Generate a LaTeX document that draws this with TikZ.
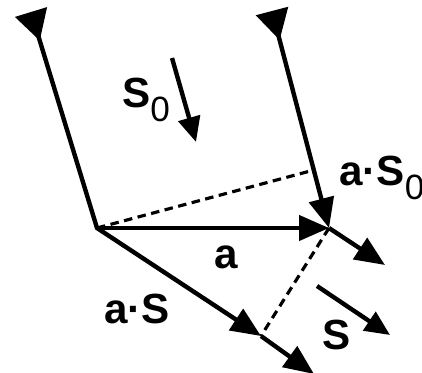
\documentclass[tikz,border=0pt]{standalone}
\usepackage{fontspec}
\setmainfont{Liberation Sans}
\usetikzlibrary{arrows.meta}

\tikzset{
	ray/.style={line width=2.5pt},
	head/.style={-{Triangle[length=6mm,width=5mm]}},
	inray/.style={{Triangle[reversed,length=6mm,width=6.5mm]}-{Triangle[length=6mm,width=5mm]}},
	proj/.style={line width=1.8pt, dash pattern=on 1.7mm off 1.1mm},
	lbl/.style={anchor=base west, inner sep=0pt, font=\fontsize{24}{24}\selectfont\bfseries},
}
\newcommand{\zerosub}{\raisebox{-8.5pt}{\fontsize{20}{20}\selectfont\mdseries 0}}

\begin{document}
\begin{tikzpicture}[x=0.02cm, y=-0.02cm]
				\useasboundingbox (0,0) rectangle (422,372);
				% points of the two rays
				\coordinate (topL) at (31,12);
				\coordinate (O) at (97,228);
				\coordinate (Q) at (261,336);
				\coordinate (endL) at (314,374);
				\coordinate (topR) at (272,11);
				\coordinate (R) at (314,170);
				\coordinate (P) at (329,228);
				\coordinate (endR) at (385,265);
				
				% rays
				\draw[ray, inray] (topL) -- (O) -- (Q);
				\draw[ray, head] (Q) -- (endL);
				\draw[ray, inray] (topR) -- (P);
				\draw[ray, head] (P) -- (endR);
				\draw[ray, head] (O) -- (P);
				
				% dashed projections
				\draw[proj] (O) -- (R);
				\draw[proj] (P) -- (Q);
				
				% direction arrows
				\coordinate (s0a) at (172,58);
				\coordinate (s0b) at (196,142);
				\draw[ray, -{Triangle[length=5mm,width=4.4mm]}] (s0a) -- (s0b);
				\coordinate (sa) at (317,286);
				\coordinate (sb) at (390,335);
				\draw[ray, -{Triangle[length=5mm,width=4.4mm]}] (sa) -- (sb);
				
				% labels
				\node (lblS0) [lbl] at (122,107) {S\zerosub};
				\node (lblaS0) [lbl] at (339,185) {a·S\zerosub};
				\node (lbla) [lbl] at (214,268) {a};
				\node (lblaS) [lbl] at (104,323) {a·S};
				\node (lblS) [lbl] at (322,349) {S};
\end{tikzpicture}
\end{document}
